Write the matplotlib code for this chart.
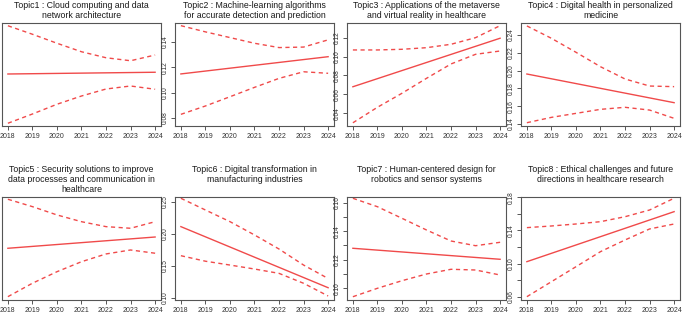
from matplotlib import pyplot as plt
from matplotlib.ticker import MultipleLocator, FixedLocator, FormatStrFormatter
import matplotlib as mpl
import numpy as np

mpl.rc('font', family='Liberation Sans')
mpl.rc('axes', linewidth=0.8, edgecolor='#555555')
mpl.rc('xtick', labelsize=5.0, color='#555555', labelcolor='#333333')
mpl.rc('ytick', labelsize=4.8, color='#555555', labelcolor='#333333')
mpl.rc('xtick.major', size=3, width=0.7, pad=2)
mpl.rc('ytick.major', size=3, width=0.7, pad=1.5)
mpl.rc('ytick.minor', size=3, width=0.7)

"""
Topic prevalence over time (estimated effect with 95% CI)
"""

years = [2018, 2019, 2020, 2021, 2022, 2023, 2024]

titles = [
    "Topic1 : Cloud computing and data\nnetwork architecture",
    "Topic2 : Machine-learning algorithms\nfor accurate detection and prediction",
    "Topic3 : Applications of the metaverse\nand virtual reality in healthcare",
    "Topic4 : Digital health in personalized\nmedicine",
    "Topic5 : Security solutions to improve\ndata processes and communication in\nhealthcare",
    "Topic6 : Digital transformation in\nmanufacturing industries",
    "Topic7 : Human-centered design for\nrobotics and sensor systems",
    "Topic8 : Ethical challenges and future\ndirections in healthcare research",
]

# mean estimate at 2018 and 2024
mean_t1 = [0.1150, 0.1164]
mean_t2 = [0.1148, 0.1284]
mean_t3 = [0.0681, 0.1194]
mean_t4 = [0.1962, 0.1640]
mean_t5 = [0.1800, 0.1925]
mean_t6 = [0.2110, 0.1156]
mean_t7 = [0.1280, 0.1203]
mean_t8 = [0.1023, 0.1627]

upper_t1 = [0.1536, 0.1468, 0.1396, 0.1328, 0.1280, 0.1256, 0.1302]
lower_t1 = [0.0756, 0.0830, 0.0908, 0.0974, 0.1030, 0.1054, 0.1028]
upper_t2 = [0.1529, 0.1480, 0.1435, 0.1390, 0.1356, 0.1360, 0.1417]
lower_t2 = [0.0829, 0.0895, 0.0968, 0.1042, 0.1113, 0.1165, 0.1153]
upper_t3 = [0.1070, 0.1070, 0.1077, 0.1094, 0.1130, 0.1200, 0.1327]
lower_t3 = [0.0300, 0.0464, 0.0612, 0.0770, 0.0922, 0.1024, 0.1059]
upper_t4 = [0.2502, 0.2363, 0.2206, 0.2044, 0.1906, 0.1827, 0.1820]
lower_t4 = [0.1415, 0.1475, 0.1520, 0.1565, 0.1588, 0.1557, 0.1464]
upper_t5 = [0.2344, 0.2262, 0.2170, 0.2095, 0.2040, 0.2022, 0.2095]
lower_t5 = [0.1263, 0.1412, 0.1540, 0.1651, 0.1737, 0.1781, 0.1745]
upper_t6 = [0.2553, 0.2370, 0.2188, 0.1980, 0.1760, 0.1510, 0.1300]
lower_t6 = [0.1656, 0.1570, 0.1510, 0.1448, 0.1380, 0.1225, 0.1027]
upper_t7 = [0.1630, 0.1571, 0.1490, 0.1408, 0.1331, 0.1298, 0.1322]
lower_t7 = [0.0941, 0.1000, 0.1053, 0.1100, 0.1133, 0.1128, 0.1093]
upper_t8 = [0.1434, 0.1454, 0.1478, 0.1506, 0.1566, 0.1647, 0.1789]
lower_t8 = [0.0600, 0.0781, 0.0962, 0.1144, 0.1285, 0.1418, 0.1478]

means = [mean_t1, mean_t2, mean_t3, mean_t4, mean_t5, mean_t6, mean_t7, mean_t8]
uppers = [upper_t1, upper_t2, upper_t3, upper_t4, upper_t5, upper_t6, upper_t7, upper_t8]
lowers = [lower_t1, lower_t2, lower_t3, lower_t4, lower_t5, lower_t6, lower_t7, lower_t8]

# y axis range and labelled ticks; minor = unlabelled extra ticks
ylims = [(0.0734, 0.1558), (0.0737, 0.1550), (0.0266, 0.1355), (0.1378, 0.2535),
         (0.1226, 0.2369), (0.0964, 0.2573), (0.0918, 0.1639), (0.0560, 0.1804)]
yticks = [[0.08, 0.10, 0.12, 0.14], [0.08, 0.10, 0.12, 0.14],
          [0.04, 0.06, 0.08, 0.10, 0.12], [0.14, 0.16, 0.18, 0.20, 0.22, 0.24],
          [0.15, 0.20], [0.10, 0.15, 0.20, 0.25],
          [0.10, 0.12, 0.14, 0.16], [0.06, 0.10, 0.14, 0.18]]
yminor = [None, None, None, None, None, None, 0.01, 0.02]

W, H = 685, 315
fig = plt.figure(figsize=(W / 100, H / 100), dpi=100)

lefts = [2, 175, 347, 521]
tops = [23, 197]
pw, ph = 159, 103
title_tops = [1, 165]
red = '#f04a4a'

for i in range(8):
    r, c = divmod(i, 4)
    ax = fig.add_axes([lefts[c] / W, 1 - (tops[r] + ph) / H, pw / W, ph / H])
    ax.plot([years[0], years[-1]], means[i], color=red, lw=1.0)
    ax.plot(years, uppers[i], color=red, lw=1.0, ls=(0, (3, 2.5)))
    ax.plot(years, lowers[i], color=red, lw=1.0, ls=(0, (3, 2.5)))
    ax.set_xlim(2018 - 0.24, 2024 + 0.24)
    ax.set_ylim(*ylims[i])
    ax.set_xticks(years)
    ax.yaxis.set_major_locator(FixedLocator(yticks[i]))
    if yminor[i]:
        ax.yaxis.set_minor_locator(MultipleLocator(yminor[i]))
    ax.yaxis.set_major_formatter(FormatStrFormatter('%.2f'))
    for lab in ax.get_yticklabels():
        lab.set_rotation(90)
        lab.set_va('center')
    if c == 0:
        ax.tick_params(axis='y', which='both', length=0, labelleft=False)
    fig.text((lefts[c] + pw / 2) / W, 1 - title_tops[r] / H, titles[i],
             ha='center', va='top', fontsize=6.3, color='#1a1a1a', linespacing=1.15)

plt.savefig('out.png', dpi=100)
plt.close()
